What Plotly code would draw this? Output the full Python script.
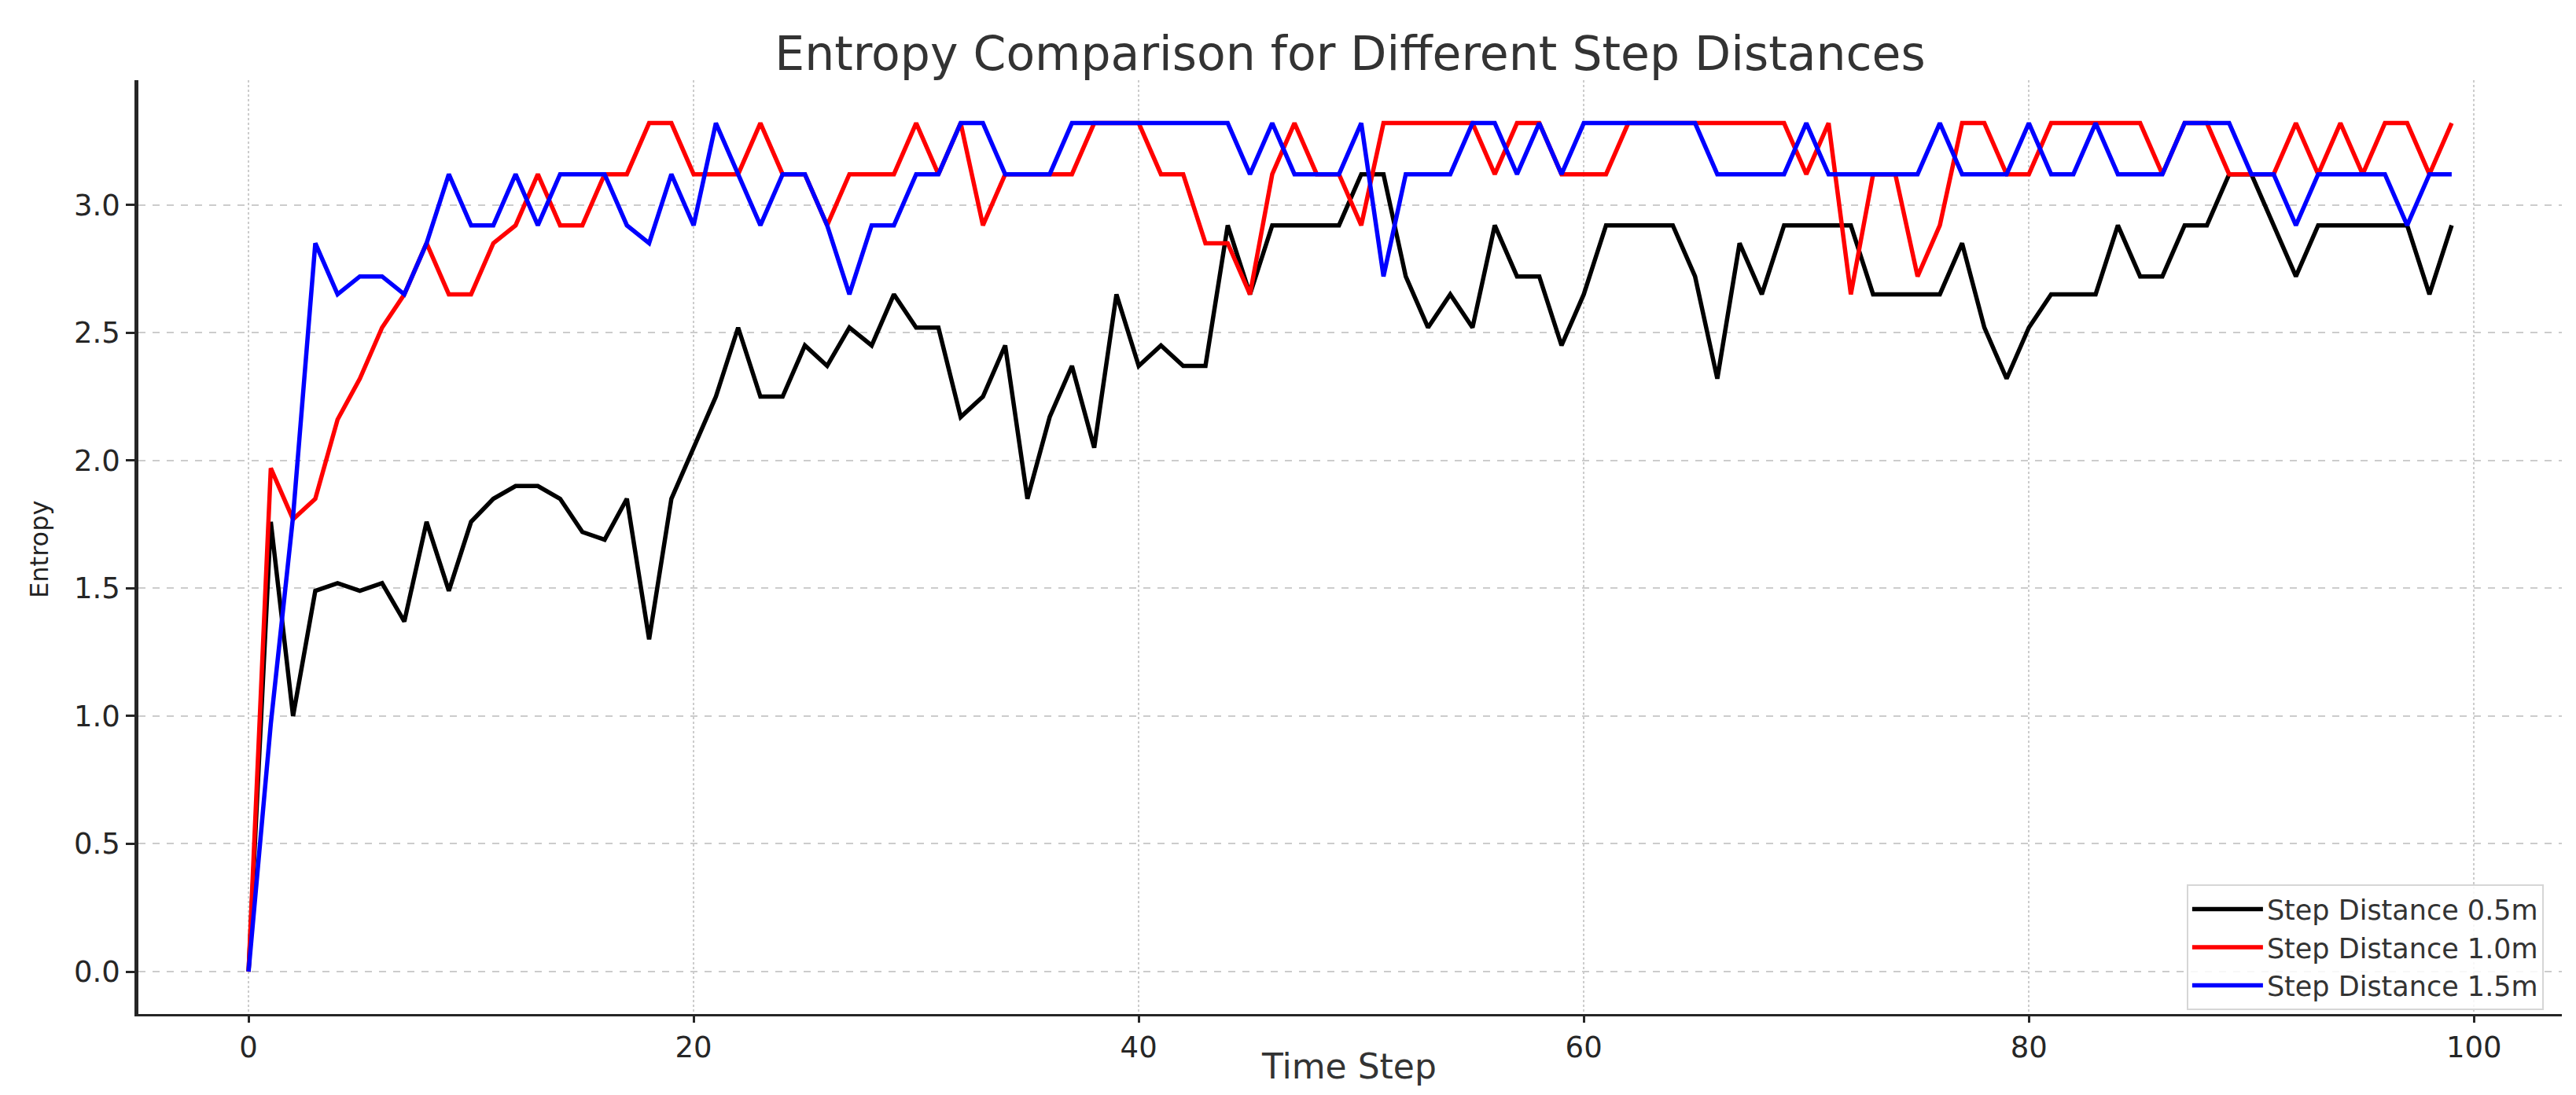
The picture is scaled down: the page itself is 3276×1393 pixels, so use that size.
import plotly.graph_objects as go

time_steps = list(range(100))

entropy_05 = [0.0, 1.76, 1.0, 1.49, 1.52, 1.49, 1.52, 1.37, 1.76, 1.49,
              1.76, 1.85, 1.90, 1.90, 1.85, 1.72, 1.69, 1.85, 1.30, 1.85,
              2.05, 2.25, 2.52, 2.25, 2.25, 2.45, 2.37, 2.52, 2.45, 2.65,
              2.52, 2.52, 2.17, 2.25, 2.45, 1.85, 2.17, 2.37, 2.05, 2.65,
              2.37, 2.45, 2.37, 2.37, 2.92, 2.65, 2.92, 2.92, 2.92, 2.92,
              3.12, 3.12, 2.72, 2.52, 2.65, 2.52, 2.92, 2.72, 2.72, 2.45,
              2.65, 2.92, 2.92, 2.92, 2.92, 2.72, 2.32, 2.85, 2.65, 2.92,
              2.92, 2.92, 2.92, 2.65, 2.65, 2.65, 2.65, 2.85, 2.52, 2.32,
              2.52, 2.65, 2.65, 2.65, 2.92, 2.72, 2.72, 2.92, 2.92, 3.12,
              3.12, 2.92, 2.72, 2.92, 2.92, 2.92, 2.92, 2.92, 2.65, 2.92]

entropy_10 = [0.0, 1.97, 1.77, 1.85, 2.16, 2.32, 2.52, 2.65, 2.85, 2.65,
              2.65, 2.85, 2.92, 3.12, 2.92, 2.92, 3.12, 3.12, 3.32, 3.32,
              3.12, 3.12, 3.12, 3.32, 3.12, 3.12, 2.92, 3.12, 3.12, 3.12,
              3.32, 3.12, 3.32, 2.92, 3.12, 3.12, 3.12, 3.12, 3.32, 3.32,
              3.32, 3.12, 3.12, 2.85, 2.85, 2.65, 3.12, 3.32, 3.12, 3.12,
              2.92, 3.32, 3.32, 3.32, 3.32, 3.32, 3.12, 3.32, 3.32, 3.12,
              3.12, 3.12, 3.32, 3.32, 3.32, 3.32, 3.32, 3.32, 3.32, 3.32,
              3.12, 3.32, 2.65, 3.12, 3.12, 2.72, 2.92, 3.32, 3.32, 3.12,
              3.12, 3.32, 3.32, 3.32, 3.32, 3.32, 3.12, 3.32, 3.32, 3.12,
              3.12, 3.12, 3.32, 3.12, 3.32, 3.12, 3.32, 3.32, 3.12, 3.32]

entropy_15 = [0.0, 0.97, 1.78, 2.85, 2.65, 2.72, 2.72, 2.65, 2.85, 3.12,
              2.92, 2.92, 3.12, 2.92, 3.12, 3.12, 3.12, 2.92, 2.85, 3.12,
              2.92, 3.32, 3.12, 2.92, 3.12, 3.12, 2.92, 2.65, 2.92, 2.92,
              3.12, 3.12, 3.32, 3.32, 3.12, 3.12, 3.12, 3.32, 3.32, 3.32,
              3.32, 3.32, 3.32, 3.32, 3.32, 3.12, 3.32, 3.12, 3.12, 3.12,
              3.32, 2.72, 3.12, 3.12, 3.12, 3.32, 3.32, 3.12, 3.32, 3.12,
              3.32, 3.32, 3.32, 3.32, 3.32, 3.32, 3.12, 3.12, 3.12, 3.12,
              3.32, 3.12, 3.12, 3.12, 3.12, 3.12, 3.32, 3.12, 3.12, 3.12,
              3.32, 3.12, 3.12, 3.32, 3.12, 3.12, 3.12, 3.32, 3.32, 3.32,
              3.12, 3.12, 2.92, 3.12, 3.12, 3.12, 3.12, 2.92, 3.12, 3.12]

series_names = ["Step Distance 0.5m", "Step Distance 1.0m", "Step Distance 1.5m"]
series_colors = ["#000000", "#ff0000", "#0000ff"]

x_ticks = [0, 20, 40, 60, 80, 100]
y_ticks = [0.0, 0.5, 1.0, 1.5, 2.0, 2.5, 3.0]

fig = go.Figure()
for vals, name, color in zip([entropy_05, entropy_10, entropy_15], series_names, series_colors):
    fig.add_trace(go.Scatter(x=time_steps, y=vals, mode="lines", name=name,
                             line=dict(color=color, width=5.5)))

font_family = "DejaVu Sans, Verdana, sans-serif"
fig.update_layout(
    width=3276, height=1393,
    paper_bgcolor="white", plot_bgcolor="white",
    margin=dict(l=168, r=26, t=94, b=111, autoexpand=False),
    title=dict(text="Entropy Comparison for Different Step Distances",
               x=1709 / 3276, xanchor="center", y=1 - 60 / 1393, yanchor="middle",
               font=dict(family=font_family, size=60, color="#333333")),
    font=dict(family=font_family, color="#262626"),
    showlegend=True,
    legend=dict(x=0.9925, y=0.004, xanchor="right", yanchor="bottom",
                bgcolor="rgba(255,255,255,0.85)", bordercolor="#d6d6d6", borderwidth=2,
                font=dict(family=font_family, size=35, color="#333333"),
                itemwidth=90, tracegroupgap=0),
    annotations=[
        dict(text="Time Step", xref="paper", yref="paper", x=0.4995, y=-0.0556,
             xanchor="center", yanchor="middle", showarrow=False,
             font=dict(family=font_family, size=44, color="#333333")),
        dict(text="Entropy", xref="paper", yref="paper", x=-0.0409, y=0.4975,
             xanchor="center", yanchor="middle", showarrow=False, textangle=-90,
             font=dict(family=font_family, size=32, color="#222222")),
    ],
)

fig.update_xaxes(
    range=[-4.95, 103.95], tickvals=x_ticks, ticktext=[str(t) for t in x_ticks],
    automargin=False,
    showline=True, linecolor="#262626", linewidth=3,
    ticks="outside", ticklen=8, tickwidth=2.5, tickcolor="#262626",
    tickfont=dict(size=37, color="#262626"),
    showgrid=True, gridcolor="#cccccc", gridwidth=2, griddash="dot",
    zeroline=False,
)
fig.update_yaxes(
    range=[-0.166, 3.488], tickvals=y_ticks, ticktext=[f"{t:.1f}" for t in y_ticks],
    automargin=False,
    showline=True, linecolor="#262626", linewidth=4.5,
    ticks="outside", ticklen=11, tickwidth=2.5, tickcolor="#262626",
    tickfont=dict(size=37, color="#262626"),
    showgrid=True, gridcolor="#cccccc", gridwidth=2, griddash="dash",
    zeroline=False,
)

fig.write_html("out.html")
